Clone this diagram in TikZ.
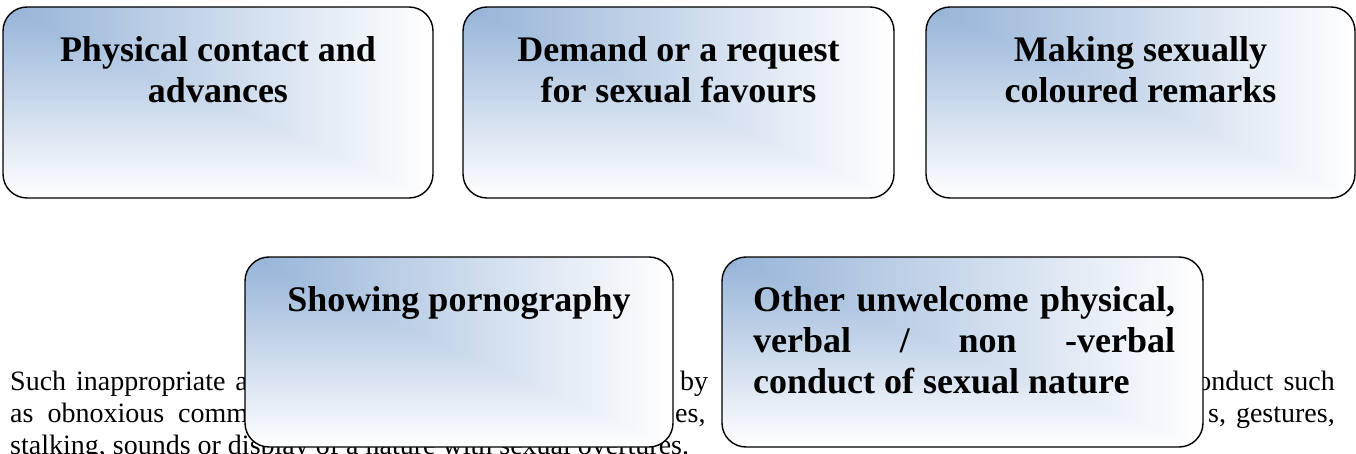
\documentclass[tikz,border=0pt]{standalone}
\usepackage{fontspec}
\setmainfont{Liberation Serif}
\definecolor{boxblue}{RGB}{149,179,215}
\begin{document}
\begin{tikzpicture}[x=1pt,y=-1pt,
  gbox/.style={draw=black, line width=1.4pt, rounded corners=24pt, inner sep=0pt,
    minimum height=191pt,
    path picture={
      \shade[left color=boxblue, right color=white]
        (path picture bounding box.north west) rectangle (path picture bounding box.south east);
      \shade[top color=boxblue, bottom color=white]
        ([xshift=-2pt]path picture bounding box.north west) -- ([xshift=-2pt]path picture bounding box.south west)
        -- (path picture bounding box.south east) -- cycle;
    }},
  btxt/.style={font=\bfseries\fontsize{36}{41}\selectfont, inner sep=0pt, text=black},
  para/.style={font=\fontsize{28}{32}\selectfont, inner sep=0pt, text=black}]
\useasboundingbox (0,0) rectangle (1356,454);
\fill[white] (0,0) rectangle (1356,454);

% background paragraph (partly hidden by the boxes)
\node[para, anchor=base west] (p1a) at (10,390) {Such\hspace{10pt}inappropriate\hspace{10pt}act};
\node[para, anchor=base west] (p1b) at (680,390) {by};
\node[para, anchor=base east] (p1c) at (1335,390) {conduct\hspace{10pt}such};
\node[para, anchor=base west] (p2a) at (10,422) {as\hspace{14pt}obnoxious\hspace{14pt}comments};
\node[para, anchor=base west] (p2b) at (675,422) {es,};
\node[para, anchor=base east] (p2c) at (1335,422) {s,\hspace{10pt}gestures,};
\node[para, anchor=base west] (p3) at (10,454) {stalking, sounds or display of a nature with sexual overtures.};

% boxes
\node[gbox, minimum width=430pt] (b1) at (218,102.5) {};
\node[gbox, minimum width=431pt] (b2) at (678.5,102.5) {};
\node[gbox, minimum width=429pt] (b3) at (1140.5,102.5) {};
\node[gbox, minimum width=428pt, minimum height=190pt] (b4) at (459,352) {};
\node[gbox, minimum width=481pt, minimum height=190pt] (b5) at (962.5,352) {};

% box texts
\node[btxt, anchor=north, align=center] (t1) at (218,33)
  {\rule{0pt}{28pt}Physical contact and\\advances};
\node[btxt, anchor=north, align=center] (t2) at (678.5,33)
  {\rule{0pt}{28pt}Demand or a request\\for sexual favours};
\node[btxt, anchor=north, align=center] (t3) at (1140.5,33)
  {\rule{0pt}{28pt}Making sexually\\coloured remarks};
\node[btxt, anchor=north, align=center] (t4) at (459,283)
  {\rule{0pt}{28pt}Showing pornography};
\node[btxt, anchor=north west, align=left] (t5) at (753,283)
  {\rule{0pt}{28pt}\makebox[422pt][s]{Other unwelcome physical,}\\
   \makebox[422pt][s]{verbal / non -verbal}\\
   conduct of sexual nature};
\end{tikzpicture}
\end{document}
